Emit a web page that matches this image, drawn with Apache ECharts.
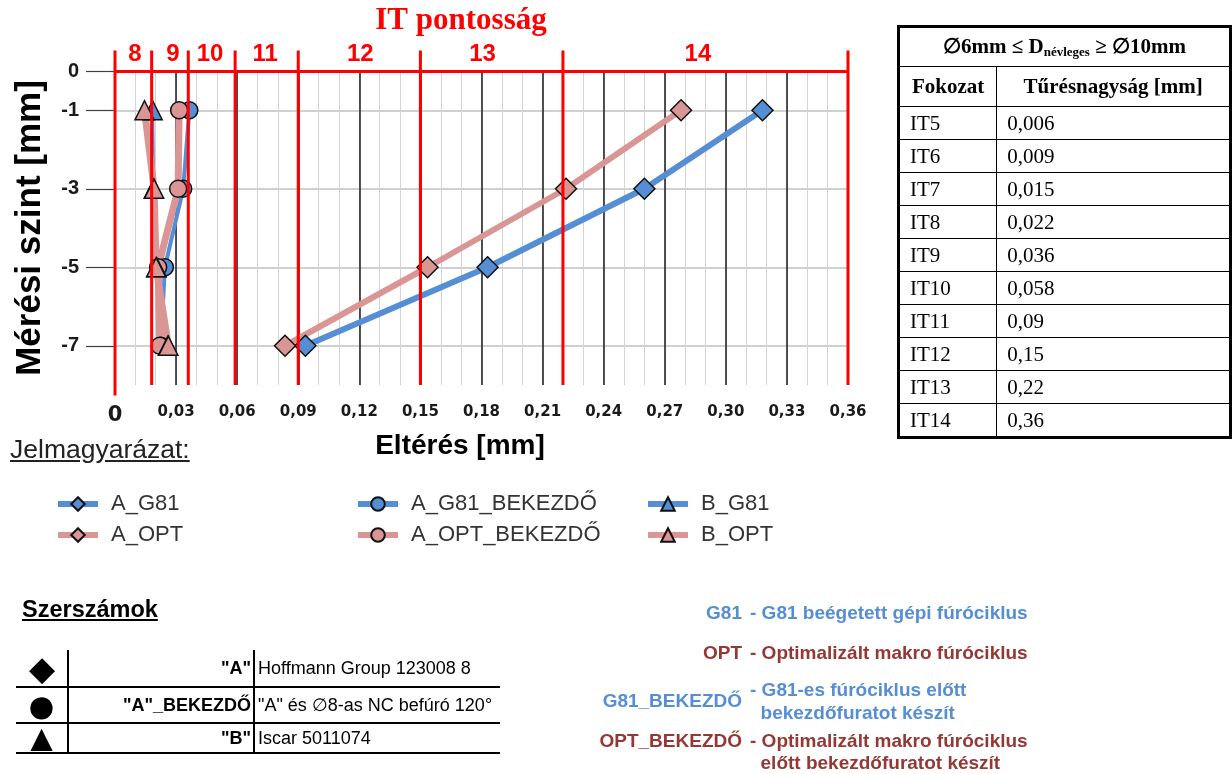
<!DOCTYPE html>
<html><head><meta charset="utf-8">
<script src="https://cdn.jsdelivr.net/npm/echarts@6/dist/echarts.min.js"></script>
<style>
html,body{margin:0;padding:0;width:1232px;height:774px;overflow:hidden;background:#fff;}
#chart{position:absolute;left:0;top:0;width:1232px;height:774px;}
.abs{position:absolute;white-space:nowrap;}
#ittab{position:absolute;left:897px;top:25px;border-collapse:collapse;font-family:"Liberation Serif",serif;color:#000;}
#ittab td{border:1.5px solid #000;padding:0 10px;height:32px;font-size:21px;line-height:28px;}
#ittab th{border:1.5px solid #000;font-weight:bold;font-size:21px;height:39px;padding:0;}
#ittab{border:3px solid #000;}
#tooltab{position:absolute;left:16px;top:650px;border-collapse:collapse;font-family:"Liberation Sans",Arial,sans-serif;font-size:18px;color:#000;white-space:nowrap;}
#tooltab td{border-bottom:2.5px solid #000;padding:0;}
#tooltab td.c1{width:51px;border-right:2px solid #000;text-align:center;line-height:28px;overflow:hidden;}
#tooltab td.c2{width:182px;border-right:2px solid #000;text-align:right;font-weight:bold;padding-right:2px;}
#tooltab td.c3{width:242px;padding-left:3px;}
.rt{font-family:"Liberation Sans",Arial,sans-serif;font-weight:bold;font-size:19px;}
.blue{color:#558ed5;}
.red{color:#953735;}
</style></head><body>
<div id="chart"></div>

<table id="ittab">
<tr><th colspan="2" style="height:38px;font-size:21px;">∅6mm ≤ D<span style="font-size:13px;vertical-align:-3px;">névleges</span> ≥ ∅10mm</th></tr>
<tr><th style="width:97px;">Fokozat</th><th style="width:235px;">Tűrésnagyság [mm]</th></tr>
<tr><td>IT5</td><td>0,006</td></tr>
<tr><td>IT6</td><td>0,009</td></tr>
<tr><td>IT7</td><td>0,015</td></tr>
<tr><td>IT8</td><td>0,022</td></tr>
<tr><td>IT9</td><td>0,036</td></tr>
<tr><td>IT10</td><td>0,058</td></tr>
<tr><td>IT11</td><td>0,09</td></tr>
<tr><td>IT12</td><td>0,15</td></tr>
<tr><td>IT13</td><td>0,22</td></tr>
<tr><td>IT14</td><td>0,36</td></tr>
</table>

<div class="abs" style="left:10px;top:434px;font-family:'Liberation Sans',Arial,sans-serif;font-size:26.5px;color:#222;text-decoration:underline;">Jelmagyarázat:</div>

<div class="abs" style="left:22px;top:596px;font-family:'Liberation Sans',Arial,sans-serif;font-size:23.5px;font-weight:bold;color:#000;text-decoration:underline;">Szerszámok</div>

<table id="tooltab">
<tr style="height:37px;"><td class="c1" style="font-size:34px;">◆</td><td class="c2">"A"</td><td class="c3">Hoffmann Group 123008 8</td></tr>
<tr style="height:36px;"><td class="c1" style="font-size:52px;line-height:30px;">●</td><td class="c2">"A"_BEKEZDŐ</td><td class="c3">"A" és ∅8-as NC befúró 120°</td></tr>
<tr style="height:30px;"><td class="c1" style="font-size:38px;line-height:26px;">▲</td><td class="c2">"B"</td><td class="c3">Iscar 5011074</td></tr>
</table>

<div class="abs rt blue" style="right:490px;top:602px;">G81</div>
<div class="abs rt blue" style="left:750px;top:602px;">- G81 beégetett gépi fúróciklus</div>
<div class="abs rt red" style="right:490px;top:642px;">OPT</div>
<div class="abs rt red" style="left:750px;top:642px;">- Optimalizált makro fúróciklus</div>
<div class="abs rt blue" style="right:490px;top:690px;">G81_BEKEZDŐ</div>
<div class="abs rt blue" style="left:750px;top:678px;line-height:23px;">- G81-es fúróciklus előtt<br>&nbsp;&nbsp;bekezdőfuratot készít</div>
<div class="abs rt red" style="right:490px;top:730px;">OPT_BEKEZDŐ</div>
<div class="abs rt red" style="left:750px;top:730px;line-height:22px;">- Optimalizált makro fúróciklus<br>&nbsp;&nbsp;előtt bekezdőfuratot készít</div>

<script>
// ---- data ----
const depthLevels = [-1, -3, -5, -7];
const A_G81 = [0.318, 0.26, 0.183, 0.0935];
const A_OPT = [0.278, 0.2215, 0.1535, 0.0835];
const A_G81_BEK = [0.0365, 0.0335, 0.0245, 0.0225];
const A_OPT_BEK = [0.0315, 0.031, 0.0212, 0.022];
const B_G81 = [0.0185, 0.019, 0.0205, 0.026];
const B_OPT = [0.0145, 0.0192, 0.0202, 0.0262];
const xTickValues = [0, 0.03, 0.06, 0.09, 0.12, 0.15, 0.18, 0.21, 0.24, 0.27, 0.30, 0.33, 0.36];
const yTickValues = [0, -1, -3, -5, -7];
const itBoundaries = [0, 0.018, 0.036, 0.059, 0.09, 0.15, 0.22, 0.36];
const itLabels = ['8', '9', '10', '11', '12', '13', '14'];
const itLabelPos = [0.0098, 0.0285, 0.0467, 0.0738, 0.1205, 0.1805, 0.2863];

// ---- styles ----
const BLUE = '#558ed5', PINK = '#d99694';
const defs = [
  {name: 'A_G81', vals: A_G81, symbol: 'diamond', size: 21, color: BLUE, width: 6},
  {name: 'A_OPT', vals: A_OPT, symbol: 'diamond', size: 21, color: PINK, width: 6},
  {name: 'A_G81_BEKEZDŐ', vals: A_G81_BEK, symbol: 'circle', size: 17, color: BLUE, width: 4},
  {name: 'A_OPT_BEKEZDŐ', vals: A_OPT_BEK, symbol: 'circle', size: 17, color: PINK, width: 7},
  {name: 'B_G81', vals: B_G81, symbol: 'triangle', size: 19, color: BLUE, width: 3},
  {name: 'B_OPT', vals: B_OPT, symbol: 'triangle', size: 19, color: PINK, width: 7}
];

const series = defs.map(d => ({
  name: d.name, type: 'line', xAxisIndex: 0, yAxisIndex: 0, z: 2,
  data: d.vals.map((v, i) => [v, depthLevels[i]]),
  symbol: d.symbol, symbolSize: d.size,
  lineStyle: {color: d.color, width: d.width},
  itemStyle: {color: d.color, borderColor: '#111', borderWidth: 1.5},
  emphasis: {disabled: true}, animation: false
}));

// red IT boundary lines (drawn through the axis scales, extending a little above the plot)
series.push({
  name: 'IT', type: 'custom', z: 5, silent: true, animation: false, clip: false,
  data: itBoundaries.map((b, i) => [b, i]),
  encode: {x: 0},
  renderItem: (params, api) => {
    const x = api.value(0);
    const idx = api.value(1);
    const top = api.coord([x, 0.52]);
    const bot = api.coord([x, idx === 0 ? -8.27 : -8]);
    return {type: 'line', shape: {x1: top[0], y1: top[1], x2: bot[0], y2: bot[1]},
            style: {stroke: '#ff0000', lineWidth: 3}};
  },
  markLine: {
    silent: true, symbol: ['none', 'none'], animation: false,
    label: {show: false},
    lineStyle: {color: '#ff0000', width: 3, type: 'solid'},
    emphasis: {disabled: true},
    data: [[{coord: [0, 0]}, {coord: [0.36, 0]}]]
  }
});

const legendText = {fontFamily: 'Liberation Sans', fontSize: 22, color: '#333', padding: [0, 0, 0, 8]};
const mkLegend = (names, left) => ({
  data: names, left: left, top: 488, orient: 'vertical', itemGap: 9,
  itemWidth: 40, itemHeight: 17, selectedMode: false, textStyle: legendText,
  lineStyle: {width: 6}
});

const chart = echarts.init(document.getElementById('chart'), null, {renderer: 'canvas'});
chart.setOption({
  animation: false,
  backgroundColor: 'transparent',
  grid: {left: 115, right: 384, top: 71, bottom: 389, containLabel: false, outerBoundsMode: 'none'},
  xAxis: [
    {
      type: 'value', min: 0, max: 0.36, interval: 0.01, position: 'bottom',
      axisLine: {show: false}, axisTick: {show: false},
      splitLine: {show: true, lineStyle: {color: '#d4d4d4', width: 1}},
      axisLabel: {
        customValues: xTickValues, margin: 20,
        fontFamily: 'DejaVu Sans', fontWeight: 'bold', fontSize: 15, color: '#1a1a1a',
        formatter: v => Math.abs(v) < 1e-9 ? '{z|0}' : v.toFixed(2).replace('.', ','),
        rich: {z: {fontFamily: 'DejaVu Sans', fontWeight: 'bold', fontSize: 21, color: '#1a1a1a'}}
      }
    },
    {
      type: 'value', min: 0, max: 0.36, interval: 0.03, position: 'bottom',
      axisLine: {show: false}, axisTick: {show: false}, axisLabel: {show: false},
      splitLine: {show: true, lineStyle: {color: '#1a1a1a', width: 1.5}}
    },
    {
      type: 'value', min: 0, max: 0.36, position: 'top',
      axisLine: {show: false}, axisTick: {show: false}, splitLine: {show: false},
      axisLabel: {
        customValues: itLabelPos, margin: 5,
        fontFamily: 'Liberation Sans', fontWeight: 'bold', fontSize: 24, color: '#ff0000',
        formatter: v => {
          let best = 0;
          itLabelPos.forEach((p, i) => { if (Math.abs(p - v) < Math.abs(itLabelPos[best] - v)) best = i; });
          return itLabels[best];
        }
      }
    }
  ],
  yAxis: {
    type: 'value', min: -8, max: 0, interval: 1,
    name: 'Mérési szint [mm]', nameLocation: 'middle', nameGap: 67,
    nameTextStyle: {fontFamily: 'Liberation Sans', fontWeight: 'bold', fontSize: 35, color: '#000'},
    axisLine: {show: false},
    axisTick: {show: true, customValues: yTickValues, length: 29, lineStyle: {color: '#404040', width: 1.2}},
    axisLabel: {
      customValues: yTickValues, margin: 36,
      fontFamily: 'Liberation Sans', fontWeight: 'bold', fontSize: 20, color: '#1a1a1a',
      formatter: v => String(v)
    },
    splitLine: {show: true, lineStyle: {color: '#c0c0c0', width: 1.5}}
  },
  legend: [
    mkLegend(['A_G81', 'A_OPT'], 50),
    mkLegend(['A_G81_BEKEZDŐ', 'A_OPT_BEKEZDŐ'], 350),
    mkLegend(['B_G81', 'B_OPT'], 640)
  ],
  graphic: [
    {type: 'text', x: 461, y: 21, silent: true,
     style: {text: 'IT pontosság', align: 'center', verticalAlign: 'middle',
             font: 'bold 31px "Liberation Serif"', fill: '#ff0000'}},
    {type: 'text', x: 460, y: 446, silent: true,
     style: {text: 'Eltérés [mm]', align: 'center', verticalAlign: 'middle',
             font: 'bold 28px "Liberation Sans"', fill: '#000'}}
  ],
  series: series
});
</script>
</body></html>
